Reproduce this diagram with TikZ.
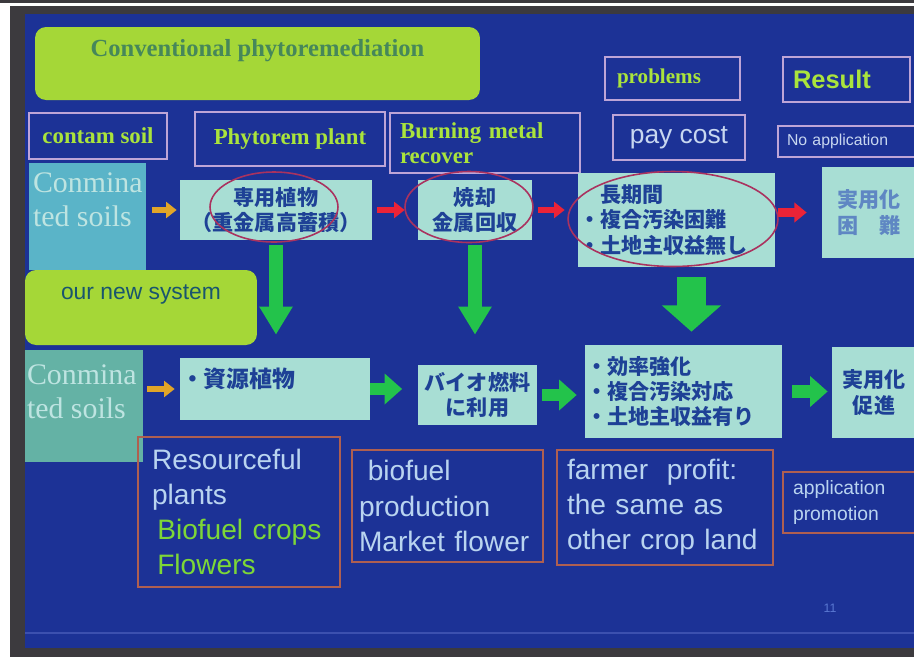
\documentclass[tikz,border=0pt]{standalone}
\usepackage{fontspec}
\setmainfont{Liberation Serif}
\setsansfont{Liberation Sans}
\newfontfamily\jpfont{Noto Sans CJK JP}
\usepackage{xcolor}
\usetikzlibrary{shapes.geometric,arrows.meta,positioning,calc}

\definecolor{slide}{RGB}{28,50,150}
\definecolor{rimdark}{RGB}{60,58,62}
\definecolor{slideline}{RGB}{60,80,175}
\definecolor{lime}{RGB}{165,215,55}
\definecolor{convgreen}{RGB}{70,135,90}
\definecolor{newblue}{RGB}{25,85,110}
\definecolor{tagline}{RGB}{190,165,215}
\definecolor{taggreen}{RGB}{170,228,60}
\definecolor{paylight}{RGB}{200,215,240}
\definecolor{palecyan}{RGB}{168,222,212}
\definecolor{jpblue}{RGB}{30,65,150}
\definecolor{jpfade}{RGB}{95,135,195}
\definecolor{soiltop}{RGB}{90,180,200}
\definecolor{soilbot}{RGB}{100,178,165}
\definecolor{soillight}{RGB}{190,228,225}
\definecolor{ringred}{RGB}{170,50,95}
\definecolor{redarr}{RGB}{235,35,55}
\definecolor{orarr}{RGB}{225,165,40}
\definecolor{grarr}{RGB}{35,195,75}
\definecolor{noteline}{RGB}{175,95,80}
\definecolor{notelight}{RGB}{185,212,240}
\definecolor{notegreen}{RGB}{125,215,55}
\definecolor{pagenum}{RGB}{90,120,210}

\begin{document}
\begin{tikzpicture}[x=0.02cm,y=-0.02cm,
    tag/.style={rectangle,draw=tagline,line width=0.8pt,inner sep=0pt,
                text=taggreen,font=\fontsize{13}{14}\selectfont\bfseries},
    pale/.style={rectangle,fill=palecyan,inner sep=0pt,align=center,
                 text=jpblue,font=\jpfont\fontsize{12}{14.5}\selectfont\bfseries},
    soil/.style={rectangle,inner sep=0pt},
    soiltxt/.style={inner sep=0pt,align=left,text=soillight,
                    font=\fontsize{17}{19}\selectfont},
    limebox/.style={rectangle,fill=lime,rounded corners=0.22cm,inner sep=0pt},
    note/.style={rectangle,draw=noteline,line width=0.8pt,inner sep=0pt,
                 align=left,text=notelight,font=\sffamily\fontsize{16}{20}\selectfont},
    ring/.style={ellipse,draw=ringred,line width=0.9pt,inner sep=0pt},
    oline/.style={draw=orarr,line width=3pt,-{Triangle[width=9pt,length=6pt]}},
    rline/.style={draw=redarr,line width=3pt,-{Triangle[width=9pt,length=6pt]}},
    gline/.style={draw=grarr,line width=7pt,-{Triangle[width=17pt,length=10pt]}},
    gdown/.style={draw=grarr,line width=7.5pt,-{Triangle[width=18pt,length=16pt]}}]
    \useasboundingbox (0,0) rectangle (914,657);
    \clip (0,0) rectangle (914,657);
    \fill[white] (0,0) rectangle (914,657);
    \fill[rimdark] (0,0) rectangle (914,3);
    \fill[rimdark] (10,6) rectangle (914,657);
    \fill[slide] (25,14) rectangle (914,648);
    \draw[slideline,line width=0.6pt] (25,633) -- (914,633);

    \node[limebox,minimum width=8.9cm,minimum height=1.46cm] (conv) at (257.5,63.5) {};
    \node[below=0.25cm of conv.north,inner sep=0pt,text=convgreen,
          font=\fontsize{14}{16}\selectfont\bfseries] (convtxt) {Conventional phytoremediation};
    \node[tag,minimum width=2.7cm,minimum height=0.86cm,text width=2.22cm,inner xsep=0.24cm,
          align=left,font=\fontsize{12}{14}\selectfont\bfseries] (prob) at (672.5,78.5) {problems};
    \node[tag,minimum width=2.54cm,minimum height=0.9cm,text width=2.14cm,inner xsep=0.2cm,
          align=left,font=\sffamily\fontsize{14.5}{16}\selectfont\bfseries] (result) at (846.5,79.5) {Result};
    \node[tag,minimum width=2.76cm,minimum height=0.92cm] (contam) at (98,136) {contam soil};
    \node[tag,minimum width=3.8cm,minimum height=1.08cm] (phyto) at (290,139) {Phytorem plant};
    \node[tag,minimum height=1.2cm,text width=3.4cm,inner xsep=0.2cm,align=left] (burn) at (485,143) {Burning metal\\recover};
    \node[tag,minimum width=2.64cm,minimum height=0.9cm,text=paylight,
          font=\sffamily\fontsize{15}{17}\selectfont] (pay) at (679,137.5) {pay cost};
    \node[tag,minimum height=0.62cm,text width=2.44cm,inner xsep=0.18cm,align=left,text=paylight,
          font=\sffamily\fontsize{9}{10}\selectfont] (noapp) at (848,141.5) {No application};

    \node[soil,fill=soiltop,minimum width=2.34cm,minimum height=2.14cm] (soilA) at (87.5,216.5) {};
    \node[soiltxt,below right=0.2cm and 0.08cm of soilA.north west] (soilAtxt) {Conmina\\ted soils};
    \node[limebox,minimum width=4.64cm,minimum height=1.5cm] (newsys) at (141,307.5) {};
    \node[below=0.3cm of newsys.north,inner sep=0pt,text=newblue,
          font=\sffamily\fontsize{13}{15}\selectfont] (newtxt) {our new system};
    \node[soil,fill=soilbot,minimum width=2.36cm,minimum height=2.24cm] (soilB) at (84,406) {};
    \node[soiltxt,below right=0.3cm and 0.04cm of soilB.north west] (soilBtxt) {Conmina\\ted soils};

    \node[pale,minimum width=3.84cm,minimum height=1.2cm] (sen) at (276,210) {専用植物\\（重金属高蓄積）};
    \node[pale,minimum width=2.28cm,minimum height=1.2cm] (yaki) at (475,210) {焼却\\金属回収};
    \node[pale,minimum height=1.88cm,text width=3.9cm,inner xsep=0.02cm,align=left] (choki) at (676.5,220)
          {\phantom{・}長期間\\・複合汚染困難\\・土地主収益無し};
    \node[pale,minimum width=1.88cm,minimum height=1.82cm,text=jpfade] (konnan) at (869,212.5) {実用化\\困　難};
    \node[pale,minimum width=3.8cm,minimum height=1.24cm] (shigen) at (275,389) {};
    \node[below right=0.2cm and 0.02cm of shigen.north west,inner sep=0pt,text=jpblue,
          font=\jpfont\fontsize{13}{15}\selectfont\bfseries] (shigentxt) {・資源植物};
    \node[pale,minimum width=2.4cm,minimum height=1.2cm] (bio) at (477.5,395) {バイオ燃料\\に利用};
    \node[pale,minimum height=1.86cm,text width=3.9cm,inner xsep=0.02cm,align=left] (koritsu) at (683.5,391.5)
          {・効率強化\\・複合汚染対応\\・土地主収益有り};
    \node[pale,minimum width=1.68cm,minimum height=1.82cm] (sokushin) at (874,392.5) {実用化\\促進};

    \node[note,minimum height=3cm,text width=3.48cm,inner xsep=0.28cm] (res) at (239,512)
          {Resourceful\\plants\\\textcolor{notegreen}{\hspace*{3pt}Biofuel crops}\\\textcolor{notegreen}{\hspace*{3pt}Flowers}};
    \node[note,minimum height=2.24cm,text width=3.54cm,inner xsep=0.14cm] (fuel) at (447.5,506)
          {\hspace*{5pt}biofuel\\production\\Market flower};
    \node[note,minimum height=2.3cm,text width=3.92cm,inner xsep=0.2cm] (farmer) at (665,507.5)
          {farmer\ \ profit:\\the same as\\other crop land};
    \node[note,minimum height=1.22cm,text width=2.28cm,inner xsep=0.2cm,
          font=\sffamily\fontsize{11}{15}\selectfont] (appl) at (850,502.5) {application\\promotion};
    \node[inner sep=0pt,text=pagenum,font=\sffamily\fontsize{7}{8}\selectfont] (pgno) at (830,608) {11};

    \draw[oline,shorten <=0.12cm,shorten >=0.06cm] (soilA.east |- sen.west) -- (sen.west);
    \draw[oline,shorten <=0.08cm,shorten >=0.1cm] (soilB.east |- shigen.west) -- (shigen.west);
    \draw[rline,shorten <=0.1cm,shorten >=0.26cm] (sen.east) -- (yaki.west);
    \draw[rline,shorten <=0.12cm,shorten >=0.26cm] (yaki.east) -- (yaki.east -| choki.west);
    \draw[rline,line width=5.5pt,-{Triangle[width=11pt,length=7pt]},shorten <=0.06cm,shorten >=0.3cm]
          (choki.east |- konnan.west) -- (konnan.west);
    \draw[gdown,shorten <=0.1cm,shorten >=0.46cm] (sen.south) -- (sen.south |- shigen.north);
    \draw[gdown,shorten <=0.1cm,shorten >=0.6cm] (yaki.south) -- (yaki.south |- bio.north);
    \draw[gdown,line width=17pt,-{Triangle[width=33pt,length=15pt]},shorten <=0.2cm,shorten >=0.26cm]
          ([xshift=0.3cm]choki.south) -- ([xshift=0.3cm]choki.south |- koritsu.north);
    \draw[gline,shorten >=0.3cm] (shigen.east) -- (shigen.east -| bio.west);
    \draw[gline,shorten <=0.09cm,shorten >=0.16cm] (bio.east) -- (bio.east -| koritsu.west);
    \draw[gline,shorten <=0.2cm,shorten >=0.08cm] (koritsu.east) -- (koritsu.east -| sokushin.west);

    \node[ring,minimum width=2.56cm,minimum height=1.4cm] (ringA) at (274,207) {};
    \node[ring,minimum width=2.56cm,minimum height=1.42cm] (ringB) at (469,207) {};
    \node[ring,minimum width=4.2cm,minimum height=1.9cm] (ringC) at (673,219) {};
\end{tikzpicture}
\end{document}
